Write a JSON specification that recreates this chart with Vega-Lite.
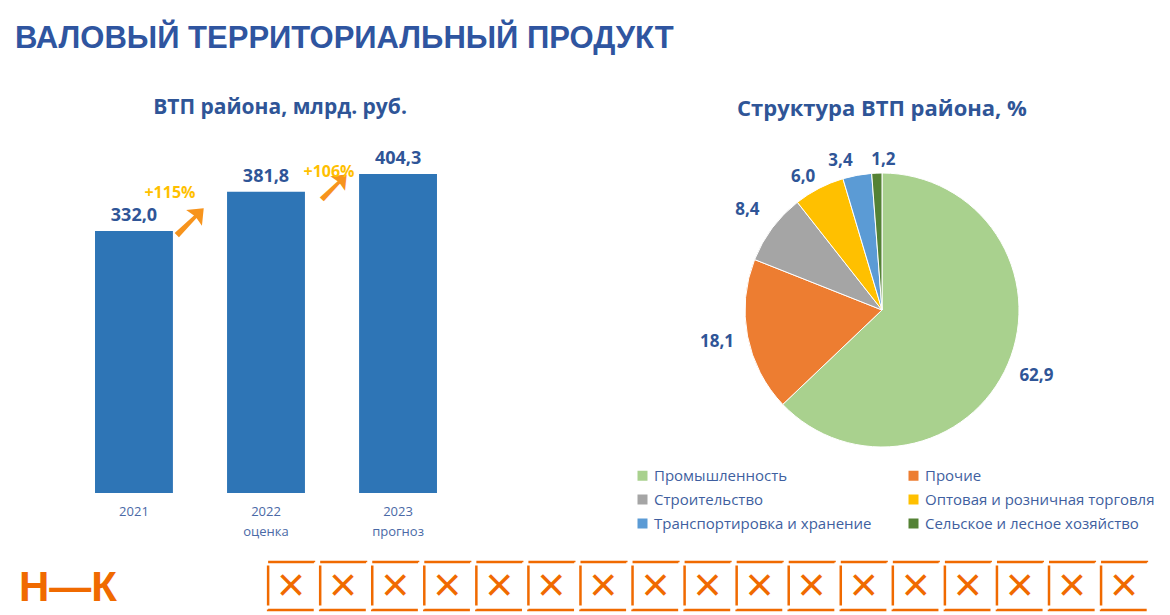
{
  "$schema": "https://vega.github.io/schema/vega-lite/v6.json",
  "background": "white",
  "padding": {"left": 15, "top": 23, "right": 5, "bottom": 0},
  "config": {
    "view": {"stroke": null},
    "font": "Open Sans",
    "locale": {"number": {"decimal": ",", "thousands": " ", "grouping": [3], "currency": ["", " ₽"]}}
  },
  "title": {
    "text": "ВАЛОВЫЙ ТЕРРИТОРИАЛЬНЫЙ ПРОДУКТ",
    "anchor": "start",
    "font": "Liberation Sans",
    "fontSize": 31,
    "fontWeight": "bold",
    "color": "#2F55A0",
    "offset": 42
  },
  "spacing": 22,
  "resolve": {"legend": {"color": "independent"}},
  "vconcat": [
    {
      "spacing": 118,
      "resolve": {"legend": {"color": "independent"}},
      "hconcat": [
        {
          "width": 502,
          "height": 355,
          "title": {"text": "ВТП района, млрд. руб.", "fontSize": 21, "fontWeight": "bold", "color": "#2F5597", "offset": 20, "dx": 14},
          "data": {"values": [
            {"year": "2021", "value": 332.0},
            {"year": "2022", "value": 381.8},
            {"year": "2023", "value": 404.3}
          ]},
          "encoding": {
            "x": {
              "field": "year", "type": "ordinal",
              "scale": {"paddingInner": 0.41, "paddingOuter": 0.606},
              "axis": {
                "title": null, "domain": false, "ticks": false, "labelAngle": 0,
                "labelPadding": 12, "labelFontSize": 13, "labelColor": "#4A69A6", "labelLineHeight": 20,
                "labelExpr": "datum.value == '2022' ? ['2022', 'оценка'] : datum.value == '2023' ? ['2023', 'прогноз'] : datum.value"
              }
            },
            "y": {"field": "value", "type": "quantitative", "scale": {"domain": [0, 450]}, "axis": null}
          },
          "layer": [
            {"mark": {"type": "bar", "color": "#2E75B6"}},
            {
              "mark": {"type": "text", "baseline": "bottom", "dy": -6, "fontSize": 18, "fontWeight": "bold", "color": "#2F5597"},
              "encoding": {"text": {"field": "value", "type": "quantitative", "format": ".1f"}}
            },
            {
              "data": {"values": [{"year": "2021", "pos": 344, "arrow": "➚"}]},
              "mark": {"type": "text", "fontSize": 52, "font": "DejaVu Sans", "color": "#F7941D", "dx": 56},
              "encoding": {"y": {"field": "pos", "type": "quantitative"}, "text": {"field": "arrow"}}
            },
            {
              "data": {"values": [{"year": "2022", "pos": 386, "arrow": "➚"}]},
              "mark": {"type": "text", "fontSize": 48, "font": "DejaVu Sans", "color": "#F7941D", "dx": 68},
              "encoding": {"y": {"field": "pos", "type": "quantitative"}, "text": {"field": "arrow"}}
            },
            {
              "data": {"values": [{"year": "2021", "pos": 380, "growth": "+115%"}]},
              "mark": {"type": "text", "fontSize": 16, "fontWeight": "bold", "color": "#FFC000", "dx": 36},
              "encoding": {"y": {"field": "pos", "type": "quantitative"}, "text": {"field": "growth"}}
            },
            {
              "data": {"values": [{"year": "2022", "pos": 407, "growth": "+106%"}]},
              "mark": {"type": "text", "fontSize": 16, "fontWeight": "bold", "color": "#FFC000", "dx": 63},
              "encoding": {"y": {"field": "pos", "type": "quantitative"}, "text": {"field": "growth"}}
            }
          ]
        },
        {
          "width": 340,
          "height": 344,
          "title": {"text": "Структура ВТП района, %", "fontSize": 22, "fontWeight": "bold", "color": "#2F5597", "offset": 12},
          "data": {"values": [
            {"sector": "Промышленность", "share": 62.9, "rank": 1},
            {"sector": "Прочие", "share": 18.1, "rank": 2},
            {"sector": "Строительство", "share": 8.4, "rank": 3},
            {"sector": "Оптовая и розничная торговля", "share": 6.0, "rank": 4},
            {"sector": "Транспортировка и хранение", "share": 3.4, "rank": 5},
            {"sector": "Сельское и лесное хозяйство", "share": 1.2, "rank": 6}
          ]},
          "encoding": {
            "theta": {"field": "share", "type": "quantitative", "stack": true},
            "order": {"field": "rank", "type": "quantitative"},
            "color": {
              "field": "sector", "type": "nominal",
              "scale": {
                "domain": ["Промышленность", "Строительство", "Транспортировка и хранение", "Прочие", "Оптовая и розничная торговля", "Сельское и лесное хозяйство"],
                "range": ["#A9D18E", "#A5A5A5", "#5B9BD5", "#ED7D31", "#FFC000", "#548235"]
              },
              "legend": {
                "title": null, "orient": "none", "legendX": -77, "legendY": 330, "columns": 2,
                "symbolType": "square", "symbolSize": 100, "symbolStrokeWidth": 0,
                "labelFontSize": 15, "labelColor": "#3F5FA0", "rowPadding": 8, "columnPadding": 34, "labelLimit": 300
              }
            }
          },
          "layer": [
            {"mark": {"type": "arc", "outerRadius": 137, "stroke": "white", "strokeWidth": 1}},
            {
              "mark": {"type": "text", "radius": 168, "fontSize": 17, "fontWeight": "bold", "color": "#2F5597"},
              "encoding": {
                "text": {"condition": {"test": "datum.rank <= 3", "field": "share", "type": "quantitative", "format": ".1f"}, "value": ""},
                "color": {"value": "#2F5597"}
              }
            },
            {
              "mark": {"type": "text", "radius": 150, "dx": -10, "fontSize": 17, "fontWeight": "bold", "color": "#2F5597"},
              "encoding": {
                "text": {"condition": {"test": "datum.rank == 4", "field": "share", "type": "quantitative", "format": ".1f"}, "value": ""},
                "color": {"value": "#2F5597"}
              }
            },
            {
              "mark": {"type": "text", "radius": 152, "dx": -14, "fontSize": 17, "fontWeight": "bold", "color": "#2F5597"},
              "encoding": {
                "text": {"condition": {"test": "datum.rank == 5", "field": "share", "type": "quantitative", "format": ".1f"}, "value": ""},
                "color": {"value": "#2F5597"}
              }
            },
            {
              "mark": {"type": "text", "radius": 150, "dx": 7, "fontSize": 17, "fontWeight": "bold", "color": "#2F5597"},
              "encoding": {
                "text": {"condition": {"test": "datum.rank == 6", "field": "share", "type": "quantitative", "format": ".1f"}, "value": ""},
                "color": {"value": "#2F5597"}
              }
            }
          ]
        }
      ]
    },
    {
      "spacing": 144,
      "hconcat": [
        {
          "width": 106,
          "height": 48,
          "data": {"values": [{"logo": "Н—К"}]},
          "mark": {"type": "text", "fontSize": 42, "fontWeight": "bold", "font": "Liberation Sans", "color": "#F06A00", "baseline": "bottom"},
          "encoding": {"text": {"field": "logo"}, "y": {"value": 48}}
        },
        {
          "width": 885,
          "height": 48,
          "data": {"values": [
            {"cell": 1}, {"cell": 2}, {"cell": 3}, {"cell": 4}, {"cell": 5}, {"cell": 6}, {"cell": 7}, {"cell": 8}, {"cell": 9},
            {"cell": 10}, {"cell": 11}, {"cell": 12}, {"cell": 13}, {"cell": 14}, {"cell": 15}, {"cell": 16}, {"cell": 17}
          ]},
          "encoding": {
            "x": {"field": "cell", "type": "ordinal", "scale": {"paddingInner": 0.12, "paddingOuter": 0.06}, "axis": null}
          },
          "layer": [
            {"mark": {"type": "bar", "fillOpacity": 0, "stroke": "#F06A00", "strokeWidth": 2.5, "strokeDash": [46, 48, 46, 4, 40, 4]}},
            {"mark": {"type": "text", "text": "×", "font": "Liberation Sans", "fontSize": 48, "color": "#F06A00", "dy": 1}}
          ]
        }
      ]
    }
  ]
}
